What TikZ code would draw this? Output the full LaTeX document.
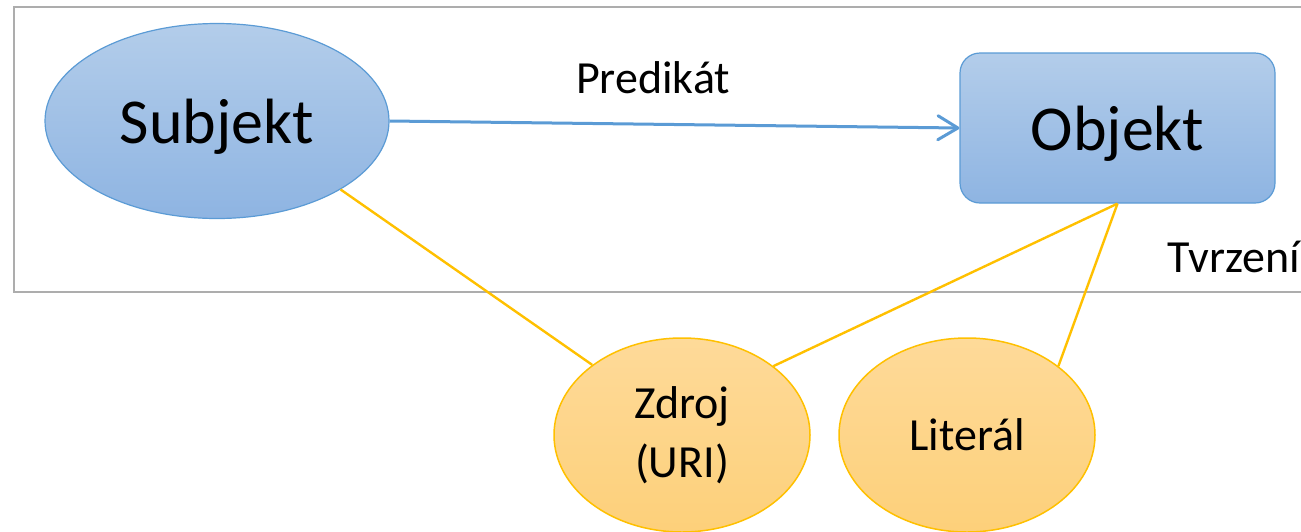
\documentclass[tikz,border=0pt]{standalone}
\usepackage{fontspec}
\setmainfont{Carlito}
\usetikzlibrary{shapes.geometric,arrows.meta}
\definecolor{blueline}{HTML}{5B9BD5}
\definecolor{bluetop}{HTML}{B3CDEA}
\definecolor{bluebot}{HTML}{8EB4E2}
\definecolor{yelline}{HTML}{FFC000}
\definecolor{yeltop}{HTML}{FEDA99}
\definecolor{yelbot}{HTML}{FDD07A}
\definecolor{framegray}{HTML}{ADADAD}
\tikzset{
  bignode/.style={draw=blueline, line width=1.2pt, top color=bluetop, bottom color=bluebot, inner sep=0pt, text depth=0pt, font=\fontsize{64}{77}\selectfont},
  smallnode/.style={ellipse, draw=yelline, line width=1.5pt, top color=yeltop, bottom color=yelbot, inner sep=0pt, minimum width=256pt, minimum height=194pt, align=center, font=\fontsize{46}{59}\selectfont},
  label46/.style={inner sep=0pt, font=\fontsize{46}{55}\selectfont},
  conn/.style={draw=yelline, line width=2.4pt},
  pred/.style={draw=blueline, line width=3pt, -{Straight Barb[length=20pt,width=24pt,round]}}
}
\begin{document}
\begin{tikzpicture}[x=1pt,y=-1pt]
\useasboundingbox (0,0) rectangle (1301,531);
\clip (0,0) rectangle (1301,531);
\draw[framegray, line width=2.2pt] (14,7) rectangle (1320,292);
\node[bignode, ellipse, minimum width=344pt, minimum height=195pt] (s) at (217,121) {Subjekt};
\node[bignode, rectangle, rounded corners=20pt, minimum width=315pt, minimum height=150pt] (o) at (1117.5,128) {Objekt};
\node[smallnode] (z) at (682,435) {Zdroj\\(URI)};
\node[smallnode] (l) at (967,435) {Literál};
\node[label46] (p) at (653,78) {Predikát};
\node[label46, anchor=base east] (t) at (1300,272) {Tvrzení};
\draw[pred] (s.east) -- (o.west);
\draw[conn] (s.-29.5) -- (z.142);
\draw[conn] (o.south) -- (z.37);
\draw[conn] (o.south) -- (l.37);
\end{tikzpicture}
\end{document}
